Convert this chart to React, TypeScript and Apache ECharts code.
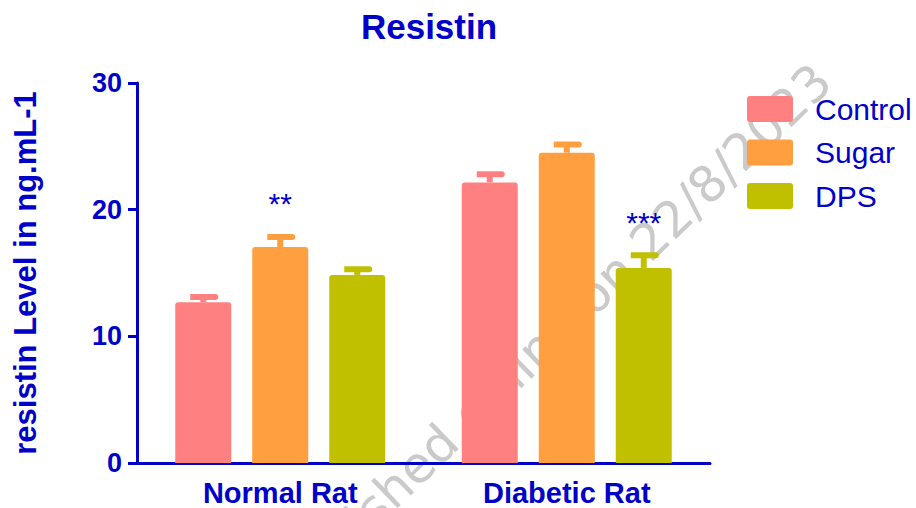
import React, { useEffect, useRef } from "react";
import * as echarts from "echarts";

// Resistin level (ng/mL) by rat group and treatment
const categories = ["Normal Rat", "Diabetic Rat"];
const groupNames = ["Control", "Sugar", "DPS"];
const groupColors = ["#FF8080", "#FF9F40", "#C0C000"];

const controlMean = [12.7, 22.15];
const controlUpper = [13.1, 22.8];
const sugarMean = [17.05, 24.5];
const sugarUpper = [17.85, 25.15];
const dpsMean = [14.85, 15.4];
const dpsUpper = [15.3, 16.4];

// significance marks drawn above the error bars
const controlSig = ["", ""];
const sugarSig = ["**", ""];
const dpsSig = ["", "***"];

const yTicks = [0, 10, 20, 30];

const BLUE = "#0000C8";
const FONT = '"Liberation Sans", Arial, sans-serif';
const BAR_W = 56;
const BAR_GAP = 21;
const LEGEND_ICON =
  "path://M3,0 H43 Q46,0 46,3 V23 Q46,26 43,26 H3 Q0,26 0,23 V3 Q0,0 3,0 Z";

export default function App() {
  const ref = useRef<HTMLDivElement>(null);

  useEffect(() => {
    if (!ref.current) return;
    const chart = echarts.init(ref.current, null, { renderer: "svg" });

    const means = [controlMean, sugarMean, dpsMean];
    const uppers = [controlUpper, sugarUpper, dpsUpper];
    const sigs = [controlSig, sugarSig, dpsSig];

    const errData: number[][] = [];
    const errSig: string[] = [];
    means.forEach((m, g) => {
      m.forEach((v, c) => {
        errData.push([c, g, v, uppers[g][c]]);
        errSig.push(sigs[g][c]);
      });
    });

    const barSeries = groupNames.map((name, g) => ({
      name,
      type: "bar",
      data: means[g],
      barWidth: BAR_W,
      barGap: (BAR_GAP / BAR_W) * 100 + "%",
      itemStyle: { color: groupColors[g], borderRadius: [3, 3, 0, 0] },
      z: 2,
    }));

    const errorSeries = {
      type: "custom",
      name: "error",
      data: errData,
      z: 3,
      encode: { x: 0, y: 3 },
      renderItem: (params: any, api: any) => {
        const c = api.value(0);
        const g = api.value(1);
        const base = api.coord([c, api.value(2)]);
        const top = api.coord([c, api.value(3)]);
        const x = base[0] + (g - 1) * (BAR_W + BAR_GAP);
        const color = groupColors[g];
        const children: any[] = [
          {
            type: "rect",
            shape: { x: x - 3, y: top[1], width: 6, height: base[1] - top[1] },
            style: { fill: color },
          },
          {
            type: "rect",
            shape: { x: x - 13, y: top[1] - 3, width: 28, height: 6, r: [0, 3, 3, 0] },
            style: { fill: color },
          },
        ];
        const s = errSig[params.dataIndex];
        if (s) {
          children.push({
            type: "text",
            x: x,
            y: top[1] - 33,
            style: {
              text: s,
              fill: BLUE,
              font: `30px ${FONT}`,
              textAlign: "center",
              textVerticalAlign: "middle",
            },
          });
        }
        return { type: "group", children };
      },
    };

    chart.setOption({
      animation: false,
      backgroundColor: "#ffffff",
      title: {
        text: "Resistin",
        left: 424,
        top: 4,
        textAlign: "center",
        textStyle: { color: BLUE, fontSize: 35, fontWeight: "bold", fontFamily: FONT },
      },
      legend: {
        orient: "vertical",
        left: 747,
        top: 94,
        padding: 0,
        data: groupNames,
        itemWidth: 46,
        itemHeight: 26,
        itemGap: 13.5,
        icon: LEGEND_ICON,
        textStyle: {
          color: BLUE,
          fontSize: 30,
          fontFamily: FONT,
          lineHeight: 30,
          padding: [0, 0, 0, 17],
        },
      },
      graphic: [
        {
          type: "text",
          x: 550,
          y: 337,
          rotation: (44 * Math.PI) / 180,
          z: -1,
          silent: true,
          style: {
            text: "Published online on 22/8/2023",
            fill: "#cacaca",
            font: '50px "DejaVu Sans", sans-serif',
            textAlign: "center",
            textVerticalAlign: "middle",
          },
        },
      ],
      grid: { left: 137, right: 206, top: 83, bottom: 45 },
      xAxis: {
        type: "category",
        data: categories,
        axisLine: { lineStyle: { color: BLUE, width: 3 } },
        axisTick: { alignWithLabel: true, length: 10, lineStyle: { color: BLUE, width: 3 } },
        axisLabel: {
          color: BLUE,
          fontSize: 29,
          fontWeight: "bold",
          fontFamily: FONT,
          margin: 15,
        },
      },
      yAxis: {
        type: "value",
        min: yTicks[0],
        max: yTicks[yTicks.length - 1],
        interval: 10,
        name: "resistin Level in ng.mL-1",
        nameLocation: "middle",
        nameGap: 96,
        nameTextStyle: { color: BLUE, fontSize: 31, fontWeight: "bold", fontFamily: FONT },
        axisLine: { show: true, lineStyle: { color: BLUE, width: 3 } },
        axisTick: { show: true, length: 9, lineStyle: { color: BLUE, width: 3 } },
        splitLine: { show: false },
        axisLabel: {
          color: BLUE,
          fontSize: 27,
          fontWeight: "bold",
          fontFamily: FONT,
          margin: 15,
        },
      },
      series: [...barSeries, errorSeries],
    });

    return () => chart.dispose();
  }, []);

  return (
    <div
      ref={ref}
      style={{ position: "fixed", left: 0, top: 0, width: 916, height: 508 }}
    />
  );
}
